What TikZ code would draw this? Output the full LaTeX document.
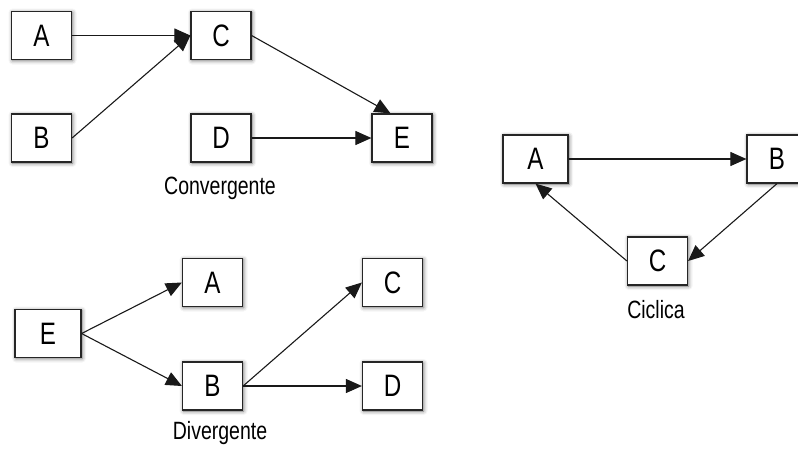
\documentclass[tikz,border=0pt]{standalone}
\usepackage{fontspec}
\usepackage{tikz}
\usetikzlibrary{arrows.meta,shadows.blur}
\newfontfamily\narrowsans{Liberation Sans}[FakeStretch=0.78]

\begin{document}
\begin{tikzpicture}[x=1pt, y=-1pt,
                        box/.style={draw=black!85, line width=1.2pt, fill=white,
                                    minimum width=60pt, minimum height=48pt, inner sep=0pt,
                                    font=\narrowsans\fontsize{31}{33}\selectfont,
                                    blur shadow={shadow xshift=1pt, shadow yshift=-1pt,
                                                 shadow blur radius=4pt, shadow opacity=60}},
                        caption/.style={font=\narrowsans\fontsize{25}{27}\selectfont},
                        link/.style={line width=1.1pt, black!90,
                                     -{Triangle[length=16pt, width=14pt]}}]
                        \clip (0,0) rectangle (798,448);

                        % convergente
                        \node[box] (cA) at (41.5,35.5) {A};
                        \node[box] (cC) at (221,35.5) {C};
                        \node[box] (cB) at (41.5,138) {B};
                        \node[box] (cD) at (221,138) {D};
                        \node[box] (cE) at (402,138) {E};
                        \node[caption] (conv) at (220,188) {Convergente};

                        \draw[link] (cA.east) -- (cC.west);
                        \draw[link] (cB.east) -- (cC.west);
                        \draw[link] (cC.east) -- (cE.115);
                        \draw[link] (cD.east) -- (cE.west);

                        % divergente
                        \node[box, minimum width=66pt] (dE) at (48,333.5) {E};
                        \node[box] (dA) at (212.5,282.5) {A};
                        \node[box] (dB) at (212.5,386) {B};
                        \node[box] (dC) at (392.5,282.5) {C};
                        \node[box] (dD) at (392.5,386) {D};
                        \node[caption] (div) at (220,433) {Divergente};

                        \draw[link] (dE.east) -- (dA.west);
                        \draw[link] (dE.east) -- (dB.west);
                        \draw[link] (dB.east) -- (dC.west);
                        \draw[link] (dB.east) -- (dD.west);

                        % ciclica
                        \node[box, minimum width=65pt] (yA) at (535.5,159) {A};
                        \node[box] (yB) at (777,159) {B};
                        \node[box] (yC) at (657.5,261) {C};
                        \node[caption] (cic) at (656,310) {Ciclica};

                        \draw[link] (yA.east) -- (yB.west);
                        \draw[link] (yB.south) -- (yC.east);
                        \draw[link] (yC.west) -- (yA.south);
                    \end{tikzpicture}
\end{document}
